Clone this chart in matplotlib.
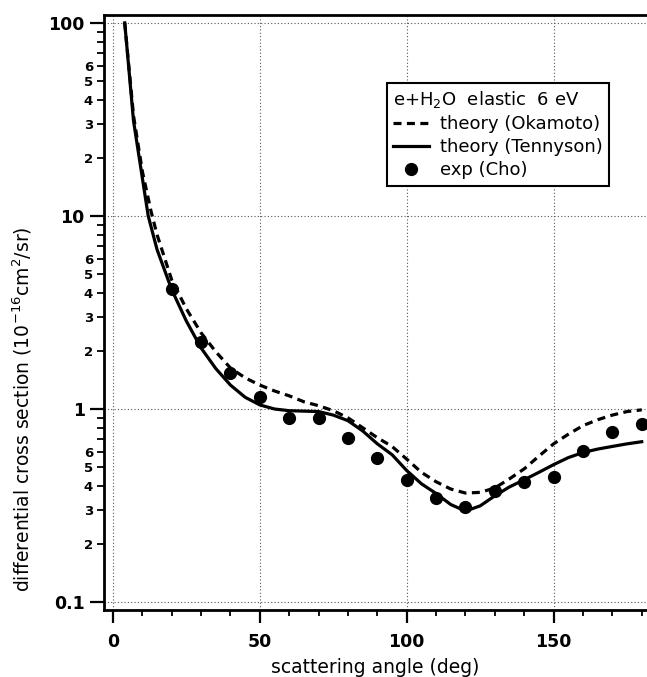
import numpy as np
import matplotlib
matplotlib.use('Agg')
import matplotlib.pyplot as plt
from matplotlib.ticker import LogLocator, FuncFormatter, MultipleLocator, FixedLocator

plt.rcParams['font.family'] = ['DejaVu Sans']
plt.rcParams['mathtext.fontset'] = 'dejavusans'

# theory (Tennyson) - solid curve
ang_tennyson = [4, 7, 12, 15, 20, 25, 30, 35, 40, 45, 50, 55, 60, 65, 70, 75, 80, 85, 90,
                95, 100, 105, 110, 115, 120, 125, 130, 135, 140, 145, 150, 155, 160, 165,
                170, 175, 180]
dcs_tennyson = [100, 31, 10, 6.7, 4.15, 2.85, 2.07, 1.62, 1.33, 1.15, 1.05, 1.0, 0.98, 0.975,
                0.97, 0.93, 0.87, 0.77, 0.66, 0.58, 0.48, 0.41, 0.365, 0.32, 0.296, 0.315,
                0.355, 0.395, 0.43, 0.47, 0.515, 0.56, 0.595, 0.62, 0.64, 0.66, 0.677]

# theory (Okamoto) - dashed curve
ang_okamoto = [4, 7, 10, 13, 15, 20, 25, 30, 35, 40, 45, 50, 55, 60, 65, 70, 75, 80, 85, 90,
               95, 100, 105, 110, 115, 120, 125, 130, 135, 140, 145, 150, 155, 160, 165, 170,
               175, 180]
dcs_okamoto = [100, 33, 17, 10.5, 8.0, 4.66, 3.3, 2.48, 1.98, 1.63, 1.45, 1.33, 1.24, 1.17,
               1.09, 1.04, 0.98, 0.9, 0.8, 0.71, 0.64, 0.55, 0.47, 0.42, 0.385, 0.367, 0.37,
               0.39, 0.435, 0.49, 0.57, 0.66, 0.74, 0.82, 0.88, 0.93, 0.97, 0.99]

# exp (Cho)
ang_cho = [20, 30, 40, 50, 60, 70, 80, 90, 100, 110, 120, 130, 140, 150, 160, 170, 180]
dcs_cho = [4.2, 2.23, 1.53, 1.15, 0.90, 0.90, 0.71, 0.56, 0.43, 0.347, 0.312, 0.377, 0.42,
           0.443, 0.605, 0.757, 0.84]

fig, ax = plt.subplots(figsize=(6.47, 6.77), dpi=100)
fig.set_facecolor('white')
plt.subplots_adjust(left=0.161, right=1.0, top=0.978, bottom=0.099)

ax.plot(ang_okamoto, dcs_okamoto, color='black', linewidth=2.3, linestyle=(0, (2.5, 1.7)),
        label='theory (Okamoto)', clip_on=False)
ax.plot(ang_tennyson, dcs_tennyson, color='black', linewidth=2.3, label='theory (Tennyson)',
        clip_on=False)
ax.plot(ang_cho, dcs_cho, 'o', color='black', markersize=8.5, label='exp (Cho)')

ax.set_yscale('log')
ax.set_xlim(-3, 181.8)
ax.set_ylim(0.091, 110)

# 刻度
ax.xaxis.set_major_locator(MultipleLocator(50))
ax.xaxis.set_minor_locator(MultipleLocator(10))
ax.yaxis.set_major_locator(FixedLocator([0.1, 1, 10, 100]))
ax.yaxis.set_minor_locator(LogLocator(base=10, subs=np.arange(2, 10), numticks=20))


def major_fmt(v, pos):
    return '%g' % v


def minor_fmt(v, pos):
    # 只标 2~6
    d = int(round(v / 10 ** np.floor(np.log10(v) + 1e-9)))
    return str(d) if d <= 6 else ''


ax.yaxis.set_major_formatter(FuncFormatter(major_fmt))
ax.yaxis.set_minor_formatter(FuncFormatter(minor_fmt))

ax.tick_params(axis='y', which='major', direction='out', length=10, width=1.6,
               labelsize=12.5, pad=4)
ax.tick_params(axis='y', which='minor', direction='out', length=5, width=1.3,
               labelsize=9.5, pad=3)
ax.tick_params(axis='x', which='major', direction='out', length=9.4, width=1.6,
               labelsize=12.5, pad=7)
ax.tick_params(axis='x', which='minor', direction='out', length=4.3, width=1.3)
for lab in ax.get_xticklabels() + ax.yaxis.get_majorticklabels():
    lab.set_fontweight('bold')
for lab in ax.yaxis.get_minorticklabels():
    lab.set_fontweight('bold')

for spine in ax.spines.values():
    spine.set_linewidth(2.0)
ax.spines['right'].set_visible(False)

ax.grid(True, which='major', linestyle=(0, (1, 2)), linewidth=0.8, color='#555555')

ax.set_xlabel('scattering angle (deg)', fontsize=13.5, labelpad=5)
ax.set_ylabel('differential cross section (10$^{-16}$cm$^2$/sr)', fontsize=13.5)
ax.yaxis.set_label_coords(-0.129, 0.338)

leg = ax.legend(loc='upper left', bbox_to_anchor=(0.521, 0.886), fontsize=13,
                title='e+H$_2$O  elastic  6 eV', title_fontsize=13, alignment='left',
                fancybox=False, framealpha=1, edgecolor='black', handlelength=2.0,
                handletextpad=0.6, borderpad=0.35, labelspacing=0.28, borderaxespad=0)
leg.get_frame().set_linewidth(1.5)

plt.savefig('out.png', dpi=100, facecolor='white')
